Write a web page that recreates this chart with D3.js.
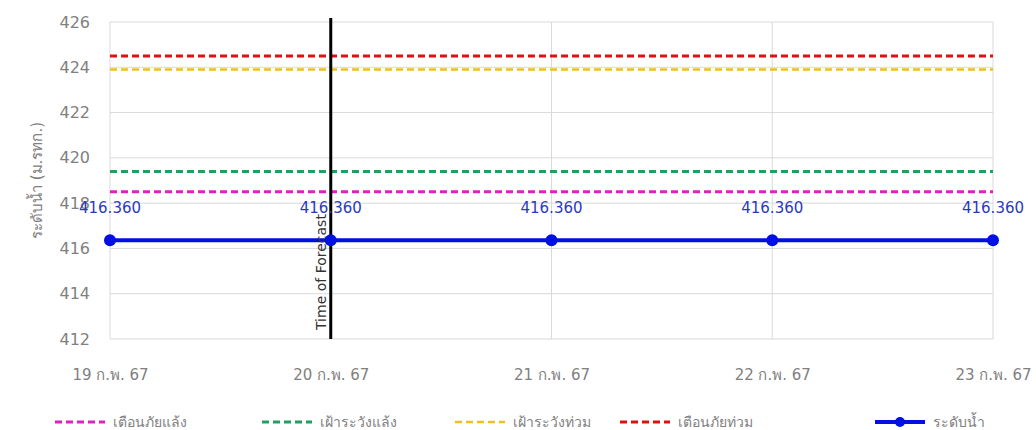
<!DOCTYPE html>
<html><head><meta charset="utf-8">
<script src="https://cdn.jsdelivr.net/npm/d3@7"></script>
<style>body{margin:0;background:#fff}svg{display:block}</style>
</head><body><svg id="c" width="1036" height="430"></svg>
<script>
const categories = ["19 ก.พ. 67","20 ก.พ. 67","21 ก.พ. 67","22 ก.พ. 67","23 ก.พ. 67"];
const waterLevel = [416.36,416.36,416.36,416.36,416.36];
const droughtWarning = [418.5,418.5,418.5,418.5,418.5];
const droughtWatch = [419.4,419.4,419.4,419.4,419.4];
const floodWatch = [423.9,423.9,423.9,423.9,423.9];
const floodWarning = [424.5,424.5,424.5,424.5,424.5];
const yTicks = [412,414,416,418,420,422,424,426];
const forecastCategory = "20 ก.พ. 67";
const forecastLabel = "Time of Forecast";
const yAxisTitle = "ระดับน้ำ (ม.รทก.)";

const series = [
  {name:"เตือนภัยแล้ง", values:droughtWarning, color:"#e020c0", dash:"7,4", width:3},
  {name:"เฝ้าระวังแล้ง", values:droughtWatch, color:"#20a060", dash:"7,4", width:3},
  {name:"เฝ้าระวังท่วม", values:floodWatch, color:"#f0c020", dash:"7,4", width:2.5},
  {name:"เตือนภัยท่วม", values:floodWarning, color:"#e01010", dash:"7,4", width:3},
  {name:"ระดับน้ำ", values:waterLevel, color:"#0010e0", dash:null, width:4, marker:true}
];

const font = "Tahoma, 'DejaVu Sans', 'Noto Sans', sans-serif";
const svg = d3.select("#c");
const m = {l:110, r:1036-993, t:22, b:430-339};
const W = 1036, H = 430;
const x = d3.scalePoint().domain(categories).range([m.l, W-m.r]);
const y = d3.scaleLinear().domain([412,426]).range([H-m.b, m.t]);

// gridlines
svg.append("g").selectAll("line").data(yTicks).join("line")
  .attr("x1", m.l).attr("x2", W-m.r).attr("y1", d=>y(d)).attr("y2", d=>y(d))
  .attr("stroke","#d9d9d9").attr("stroke-width",1);
svg.append("g").selectAll("line").data(categories).join("line")
  .attr("x1", d=>x(d)).attr("x2", d=>x(d)).attr("y1", y(412)).attr("y2", y(426))
  .attr("stroke","#d9d9d9").attr("stroke-width",1);

// y axis
const ya = svg.append("g").attr("transform",`translate(${m.l-20},0)`)
  .call(d3.axisLeft(y).tickValues(yTicks).tickSize(0).tickPadding(0));
ya.select(".domain").remove();
ya.selectAll("text").attr("fill","#808080").style("font-family",font).style("font-size","16px");

// x axis
const xa = svg.append("g").attr("transform",`translate(0,${y(412)+30})`)
  .call(d3.axisBottom(x).tickSize(0).tickPadding(0));
xa.select(".domain").remove();
xa.selectAll("text").attr("fill","#808080").style("font-family",font).style("font-size","15px");

// y title
svg.append("text").attr("transform",`translate(42,${(m.t+y(412))/2}) rotate(-90)`)
  .attr("text-anchor","middle").attr("fill","#808080")
  .style("font-family",font).style("font-size","15px").text(yAxisTitle);

// series lines
const line = d3.line().x((d,i)=>x(categories[i])).y(d=>y(d));
series.forEach(s=>{
  svg.append("path").datum(s.values).attr("d",line).attr("fill","none")
    .attr("stroke",s.color).attr("stroke-width",s.width)
    .attr("stroke-dasharray",s.dash);
});

// forecast line
const fx = x(forecastCategory);
svg.append("line").attr("x1",fx).attr("x2",fx).attr("y1",y(426)-4).attr("y2",y(412))
  .attr("stroke","#000").attr("stroke-width",3);
svg.append("text").attr("transform",`translate(${fx-5},${y(412)-9}) rotate(-90)`)
  .attr("fill","#333").style("font-family","'DejaVu Sans', sans-serif").style("font-size","14px")
  .text(forecastLabel);

// markers
const wl = series[4];
svg.append("g").selectAll("circle").data(wl.values).join("circle")
  .attr("cx",(d,i)=>x(categories[i])).attr("cy",d=>y(d)).attr("r",6).attr("fill",wl.color);

// data labels
svg.append("g").selectAll("text").data(wl.values).join("text")
  .attr("x",(d,i)=>x(categories[i])).attr("y",d=>y(d)-27)
  .attr("text-anchor","middle").attr("fill","#2a3ac0")
  .style("font-family",font).style("font-size","15px")
  .text(d=>d.toFixed(3));

// legend
const legX = [55, 262, 455, 620, 875];
const ly = 422;
const lg = svg.append("g").selectAll("g").data(series).join("g")
  .attr("transform",(d,i)=>`translate(${legX[i]},${ly})`);
lg.append("line").attr("x1",0).attr("x2",50).attr("y1",0).attr("y2",0)
  .attr("stroke",d=>d.color).attr("stroke-width",d=>d.width)
  .attr("stroke-dasharray",d=>d.dash);
lg.filter(d=>d.marker).append("circle").attr("cx",25).attr("cy",0).attr("r",5).attr("fill",d=>d.color);
lg.append("text").attr("x",58).attr("y",5).attr("fill","#808080")
  .style("font-family",font).style("font-size","14px").text(d=>d.name);
</script></body></html>
